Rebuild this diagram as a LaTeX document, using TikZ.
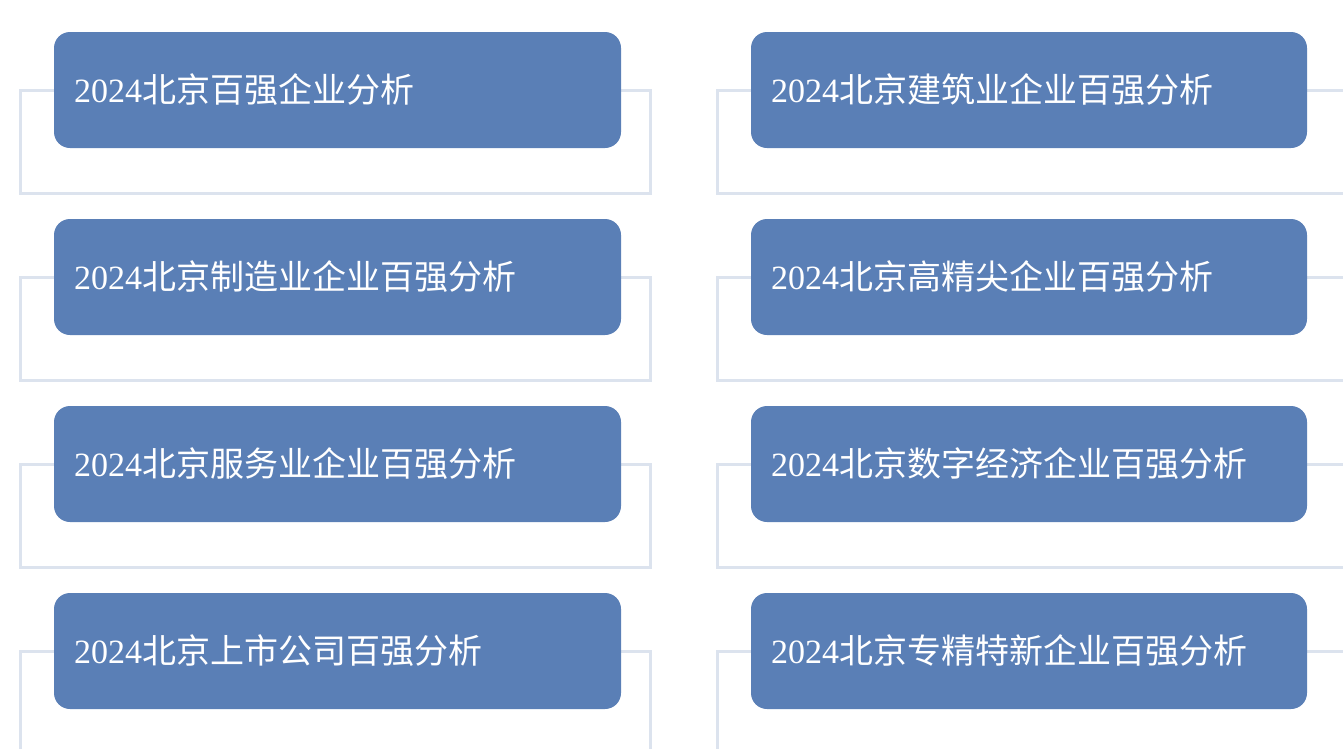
\documentclass[tikz,border=0pt]{standalone}
\usepackage{fontspec}
\setmainfont{Liberation Serif}
\newfontfamily\cjk{Noto Sans CJK SC}
\usetikzlibrary{positioning,calc}
\definecolor{boxblue}{HTML}{5A7FB6}
\definecolor{framegray}{HTML}{DCE3EE}
\tikzset{
  item/.style={fill=boxblue, rounded corners=16pt, text=white, minimum height=116pt,
    inner xsep=20pt, align=left, font=\fontsize{34}{40}\selectfont},
  backframe/.style={draw=framegray, line width=3pt}
}
\begin{document}
\begin{tikzpicture}[x=1pt,y=-1pt]
    \useasboundingbox (0,0) rectangle (1343,748);
    % left column
    \foreach \i/\t in {1/百强企业分析, 2/制造业企业百强分析, 3/服务业企业百强分析, 4/上市公司百强分析} {
        \draw[backframe] (20,{90+187*(\i-1)}) rectangle (650,{193+187*(\i-1)});
        \node[item, text width=527pt] (L\i) at (337.5,{90+187*(\i-1)}) {2024{\cjk 北京\t}};
    }
    % right column
    \foreach \i/\t in {1/建筑业企业百强分析, 2/高精尖企业百强分析, 3/数字经济企业百强分析, 4/专精特新企业百强分析} {
        \draw[backframe] (717,{90+187*(\i-1)}) rectangle (1360,{193+187*(\i-1)});
        \node[item, text width=516pt] (R\i) at (1029,{90+187*(\i-1)}) {2024{\cjk 北京\t}};
    }
\end{tikzpicture}
\end{document}
